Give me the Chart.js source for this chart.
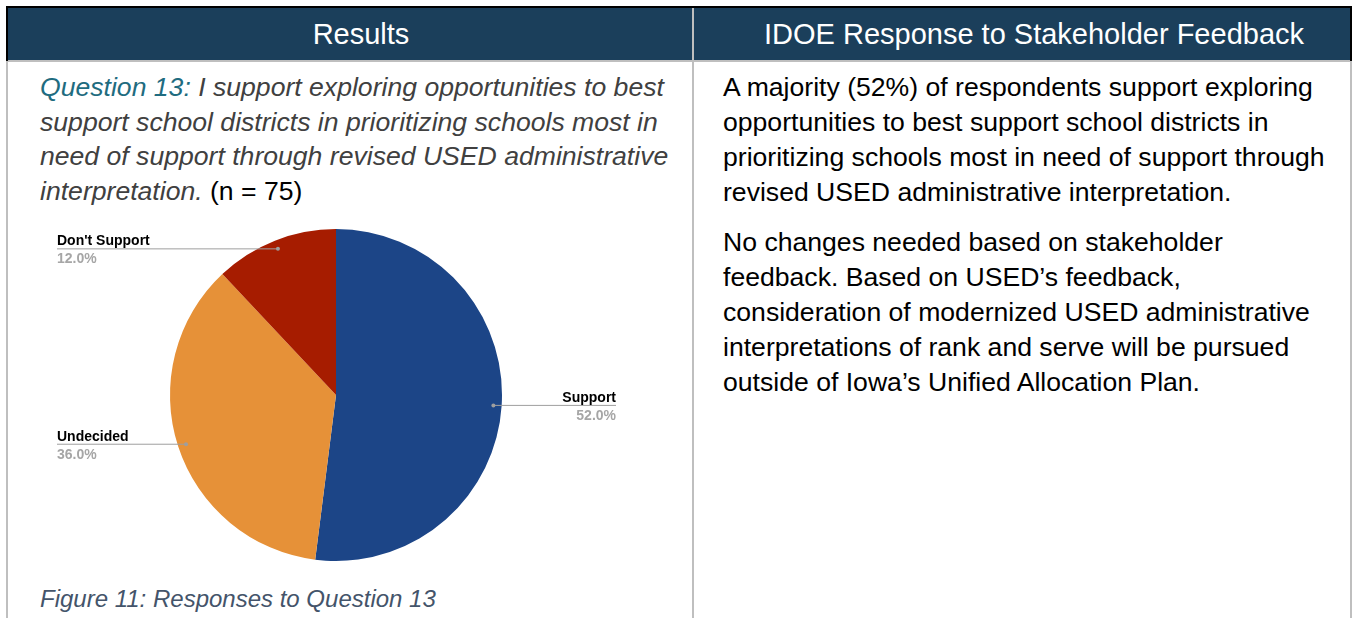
<!DOCTYPE html>
<html>
<head>
<meta charset="utf-8">
<script src="https://cdn.jsdelivr.net/npm/chart.js@4.4.1/dist/chart.umd.min.js"></script>
<style>
  html, body { margin: 0; padding: 0; background: #fff; }
  body { width: 1354px; height: 618px; position: relative; overflow: hidden;
         font-family: 'Liberation Sans', Arial, sans-serif; }
  .abs { position: absolute; }
  .frame-black { background: #000; }
  .rule-gray { background: #bfbfbf; }
  .head { background: #1b3f5b; color: #fff; font-size: 29px; line-height: 52px;
          text-align: center; top: 8px; height: 52px; }
  .body-text { font-size: 26.6px; line-height: 35px; color: #000; }
  .question { color: #404040; font-style: italic; }
  .question .qnum { color: #1f6c80; }
  .question .n { font-style: normal; color: #000; }
  .caption { font-size: 24px; font-style: italic; color: #44546a; }
  p { margin: 0; }
</style>
</head>
<body>
  <!-- table frame -->
  <div class="abs frame-black" style="left:6px; top:6px; width:1346px; height:2px;"></div>
  <div class="abs frame-black" style="left:6px; top:6px; width:2px; height:55px;"></div>
  <div class="abs frame-black" style="left:1350px; top:6px; width:2px; height:55px;"></div>
  <div class="abs head" style="left:8px; width:684px; padding-left:22px; box-sizing:border-box;">Results</div>
  <div class="abs head" style="left:694px; width:656px; padding-left:24px; box-sizing:border-box;">IDOE Response to Stakeholder Feedback</div>
  <div class="abs rule-gray" style="left:8px; top:60px; width:1342px; height:2px;"></div>
  <div class="abs rule-gray" style="left:692px; top:8px; width:2px; height:610px;"></div>
  <div class="abs rule-gray" style="left:6px; top:61px; width:2px; height:557px;"></div>
  <div class="abs rule-gray" style="left:1350px; top:61px; width:2px; height:557px;"></div>

  <!-- left column -->
  <div class="abs body-text question" style="left:40px; top:70px; width:650px; line-height:34.7px;">
    <span class="qnum">Question 13:</span> I support exploring opportunities to best support school districts in prioritizing schools most in need of support through revised USED administrative interpretation. <span class="n">(n = 75)</span>
  </div>
  <div class="abs" style="left:8px; top:220px; width:684px; height:350px;">
    <canvas id="q13Chart" width="684" height="350"></canvas>
  </div>
  <div class="abs caption" style="left:40px; top:585px;">Figure 11: Responses to Question 13</div>

  <!-- right column -->
  <div class="abs body-text" style="left:723px; top:70px; width:615px;">
    <p>A majority (52%) of respondents support exploring opportunities to best support school districts in prioritizing schools most in need of support through revised USED administrative interpretation.</p>
    <p style="margin-top:15px;">No changes needed based on stakeholder feedback. Based on USED’s feedback, consideration of modernized USED administrative interpretations of rank and serve will be pursued outside of Iowa’s Unified Allocation Plan.</p>
  </div>

<script>
const categories = ['Support', 'Undecided', "Don't Support"];
const percentages = [52, 36, 12];
const sliceColors = ['#1c4587', '#e69138', '#a61c00'];

// leader lines with the category name above and the share below
const leaderLabels = {
    id: 'leaderLabels',
    afterDatasetsDraw(chart) {
        const ctx = chart.ctx;
        const arcs = chart.getDatasetMeta(0).data;
        ctx.save();
        arcs.forEach((arc, i) => {
            const { x, y, startAngle, endAngle, outerRadius } = arc.getProps(['x', 'y', 'startAngle', 'endAngle', 'outerRadius'], true);
            const mid = (startAngle + endAngle) / 2;
            const px = x + Math.cos(mid) * outerRadius * 0.95;
            const py = y + Math.sin(mid) * outerRadius * 0.95;
            const right = Math.cos(mid) >= 0;
            const endX = right ? x + 280 : x - 279;

            ctx.strokeStyle = '#9e9e9e';
            ctx.lineWidth = 1;
            ctx.beginPath();
            ctx.moveTo(px, py + 0.5);
            ctx.lineTo(endX, py + 0.5);
            ctx.stroke();

            ctx.fillStyle = '#9e9e9e';
            ctx.beginPath();
            ctx.arc(px, py + 0.5, 2, 0, Math.PI * 2);
            ctx.fill();

            ctx.textAlign = right ? 'right' : 'left';
            ctx.textBaseline = 'alphabetic';
            ctx.font = 'bold 14px "Liberation Sans", Arial, sans-serif';
            ctx.fillStyle = '#000';
            ctx.fillText(categories[i], endX, py - 3);
            ctx.fillStyle = '#a6a6a6';
            ctx.fillText(percentages[i].toFixed(1) + '%', endX, py + 15);
        });
        ctx.restore();
    }
};

new Chart(document.getElementById('q13Chart').getContext('2d'), {
    type: 'pie',
    data: {
        labels: categories,
        datasets: [{
            data: percentages,
            backgroundColor: sliceColors,
            borderWidth: 0,
            hoverOffset: 0
        }]
    },
    options: {
        responsive: false,
        animation: false,
        radius: 166,
        layout: { padding: { top: 9, bottom: 9, left: 0, right: 28 } },
        plugins: {
            legend: { display: false },
            tooltip: { enabled: false }
        }
    },
    plugins: [leaderLabels]
});
</script>
</body>
</html>
